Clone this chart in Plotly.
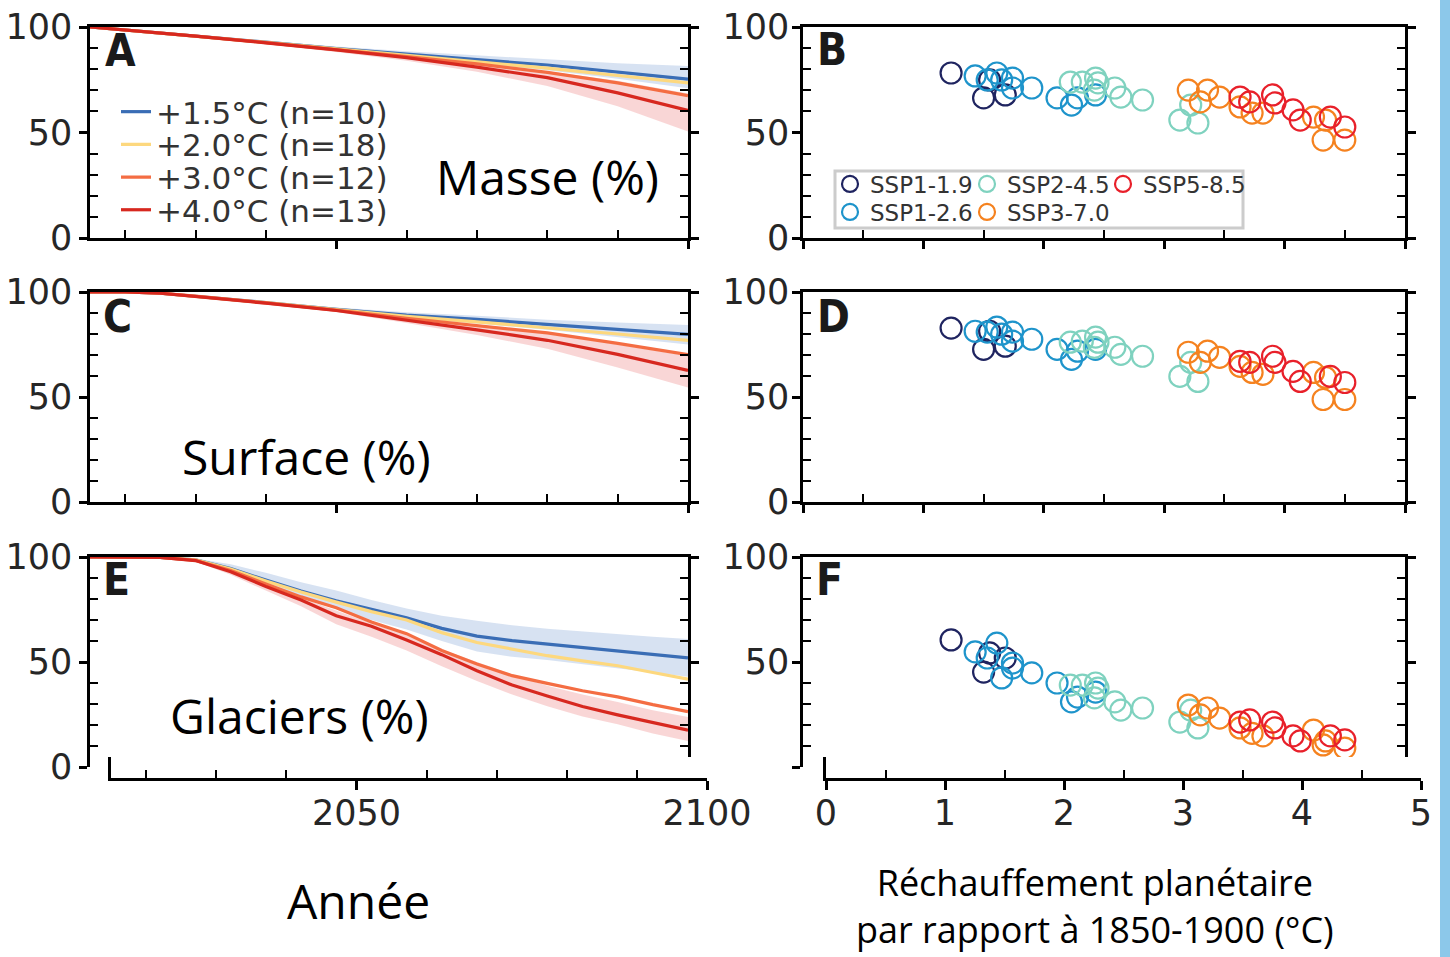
import plotly.graph_objects as go

W, H = 1450, 957


def fx(x):
    return x / W


def fy(y):
    return 1 - y / H


# ---------------- data: panel A (Masse) ----------------
years_mass = [2015, 2020, 2030, 2040, 2050, 2060, 2070, 2080, 2090, 2100]
mass_15 = [100, 98.6, 95.8, 92.8, 89.8, 87.0, 84.5, 82.0, 78.8, 75.3]
mass_20 = [100, 98.6, 95.8, 92.7, 89.6, 86.5, 83.5, 80.5, 77.0, 73.5]
mass_30 = [100, 98.6, 95.7, 92.6, 89.4, 86.0, 82.5, 78.5, 73.5, 67.5]
mass_40 = [100, 98.6, 95.7, 92.5, 89.2, 85.5, 81.0, 76.0, 68.8, 60.5]
mass_15_hi = [100, 98.7, 96.0, 93.3, 90.8, 88.5, 86.5, 84.5, 82.8, 81.5]
mass_15_lo = [100, 98.5, 95.5, 92.3, 89.0, 85.8, 82.8, 79.5, 75.5, 71.0]
mass_40_hi = [100, 98.7, 95.9, 93.0, 90.0, 86.8, 83.0, 79.0, 74.5, 68.5]
mass_40_lo = [100, 98.5, 95.4, 92.0, 88.2, 84.0, 78.8, 72.0, 62.5, 50.5]

# ---------------- data: panel C (Surface) ----------------
years_area = [2015, 2020, 2025, 2030, 2040, 2050, 2060, 2070, 2080, 2090, 2100]
area_15 = [100, 100, 99.4, 98.0, 95.0, 91.8, 89.0, 87.0, 84.6, 82.0, 79.8]
area_20 = [100, 100, 99.4, 98.0, 94.9, 91.6, 88.4, 85.8, 83.0, 80.0, 77.0]
area_30 = [100, 100, 99.4, 98.0, 94.8, 91.4, 87.5, 84.0, 80.5, 75.5, 70.2]
area_40 = [100, 100, 99.4, 97.9, 94.7, 91.2, 86.6, 82.0, 77.0, 70.3, 62.7]
area_15_hi = [100, 100, 99.5, 98.2, 95.4, 92.6, 90.4, 88.7, 86.8, 85.5, 84.3]
area_15_lo = [100, 100, 99.3, 97.8, 94.6, 91.0, 87.6, 85.0, 82.0, 78.5, 75.0]
area_40_hi = [100, 100, 99.5, 98.0, 95.0, 91.7, 87.8, 84.0, 80.0, 75.0, 69.5]
area_40_lo = [100, 100, 99.3, 97.7, 94.3, 90.5, 85.2, 79.5, 73.0, 64.0, 54.5]

# ---------------- data: panel E (Glaciers) ----------------
years_glac = [2015, 2020, 2025, 2030, 2035, 2040, 2045, 2050, 2055, 2060,
              2065, 2070, 2075, 2080, 2085, 2090, 2095, 2100]
glac_15 = [100, 100, 99.8, 98.6, 94.5, 89.0, 83.8, 79.2, 75.0, 71.0,
           66.0, 62.3, 60.2, 58.5, 56.9, 55.3, 53.6, 52.0]
glac_20 = [100, 100, 99.8, 98.6, 94.3, 88.6, 83.3, 78.5, 74.0, 70.0,
           64.0, 59.3, 56.0, 53.0, 50.5, 48.2, 45.0, 41.8]
glac_30 = [100, 100, 99.8, 98.4, 93.6, 87.2, 81.0, 75.8, 69.0, 63.5,
           55.5, 49.0, 43.5, 39.8, 36.3, 33.4, 29.7, 26.4]
glac_40 = [100, 100, 99.8, 98.3, 93.0, 86.0, 79.5, 72.0, 67.0, 60.5,
           53.5, 45.8, 39.0, 33.8, 28.8, 24.8, 21.0, 17.5]
glac_15_hi = [100, 100, 99.9, 99.3, 96.5, 92.5, 88.0, 84.0, 79.5, 75.5,
              72.0, 69.6, 67.5, 65.8, 64.5, 63.3, 62.0, 61.0]
glac_15_lo = [100, 100, 99.7, 98.2, 93.0, 86.5, 80.5, 75.5, 70.0, 65.5,
              60.0, 55.0, 52.5, 51.0, 49.0, 47.0, 45.0, 43.0]
glac_40_hi = [100, 100, 99.9, 98.7, 94.0, 87.0, 80.5, 74.5, 68.5, 63.0,
              56.0, 50.0, 44.0, 38.7, 34.5, 31.0, 27.0, 23.8]
glac_40_lo = [100, 100, 99.7, 97.8, 91.5, 84.0, 76.5, 68.0, 62.0, 55.5,
              48.0, 41.0, 34.5, 28.9, 24.0, 20.3, 16.0, 12.4]

level_names = ["+1.5°C (n=10)", "+2.0°C (n=18)", "+3.0°C (n=12)", "+4.0°C (n=13)"]

# ---------------- data: scatter panels (B, D, F) ----------------
ssp_names = ["SSP1-1.9", "SSP1-2.6", "SSP2-4.5", "SSP3-7.0", "SSP5-8.5"]

ssp119_warm = [1.23, 1.50, 1.68, 1.55]
ssp119_mass = [78.2, 66.4, 67.8, 74.9]
ssp119_area = [82.8, 72.7, 74.2, 81.3]
ssp119_glac = [60.5, 45.2, 51.9, 54.3]

ssp126_warm = [1.43, 1.53, 1.61, 1.65, 1.74, 1.74, 1.90, 2.11, 2.23, 2.28, 2.43]
ssp126_mass = [76.8, 74.9, 78.2, 74.9, 75.8, 71.1, 71.1, 66.4, 63.0, 66.4, 67.8]
ssp126_area = [81.3, 80.9, 83.3, 79.9, 80.9, 76.6, 77.5, 72.7, 67.9, 71.8, 72.7]
ssp126_glac = [54.8, 51.9, 59.0, 42.4, 49.5, 47.1, 44.8, 40.0, 31.0, 33.3, 35.7]

ssp245_warm = [2.22, 2.32, 2.43, 2.45, 2.42, 2.59, 2.64, 2.82, 3.22, 3.13, 3.28]
ssp245_mass = [73.9, 73.9, 75.8, 73.5, 70.1, 71.1, 66.8, 65.4, 63.0, 55.9, 54.5]
ssp245_area = [76.1, 76.6, 78.5, 76.1, 73.7, 73.7, 70.3, 69.4, 66.5, 59.8, 57.4]
ssp245_glac = [39.0, 39.0, 40.0, 37.6, 32.9, 31.0, 27.1, 28.1, 27.1, 21.4, 18.6]

ssp370_warm = [3.20, 3.36, 3.30, 3.46, 3.63, 3.73, 3.82, 4.24, 4.34, 4.32, 4.50]
ssp370_mass = [70.1, 70.1, 64.5, 66.8, 62.1, 59.2, 59.2, 57.3, 55.9, 46.4, 46.4]
ssp370_area = [71.3, 71.8, 66.5, 68.9, 64.6, 61.7, 60.8, 61.7, 59.3, 48.8, 48.8]
ssp370_glac = [29.5, 28.1, 24.8, 23.3, 18.6, 16.0, 14.8, 17.6, 12.4, 10.5, 9.0]

ssp585_warm = [3.63, 3.71, 3.90, 3.92, 4.07, 4.13, 4.38, 4.50]
ssp585_mass = [66.8, 64.5, 67.8, 64.0, 60.7, 55.9, 57.3, 52.6]
ssp585_area = [67.0, 66.5, 69.4, 66.5, 62.2, 57.4, 59.8, 56.9]
ssp585_glac = [21.4, 22.4, 21.4, 18.6, 14.8, 12.4, 14.8, 12.9]

# ---------------- styles ----------------
LINE_COLORS = ["#3A6DB5", "#FDD87E", "#F46D43", "#D7281F"]
BAND_BLUE = "rgba(150,180,220,0.38)"
BAND_RED = "rgba(235,120,120,0.30)"
SSP_COLORS = ["#1F2460", "#1E94CB", "#7FD2BF", "#F5821F", "#E8202A"]

TICKFONT = dict(family="DejaVu Sans", size=35, color="#262626")

fig = go.Figure()

line_legends = ["legend", "legend2", "legend3", "legend4"]


def add_line_panel(xa, ya, years, series, band15, band40, show_legend):
    for (hi, lo), col in ((band15, BAND_BLUE), (band40, BAND_RED)):
        fig.add_trace(go.Scatter(
            x=years + years[::-1], y=hi + lo[::-1], fill="toself",
            fillcolor=col, line=dict(width=0), mode="lines",
            showlegend=False, hoverinfo="skip", xaxis=xa, yaxis=ya))
    for name, vals, col, lg in zip(level_names, series, LINE_COLORS, line_legends):
        fig.add_trace(go.Scatter(
            x=years, y=vals, mode="lines", name=name,
            line=dict(color=col, width=3.2), showlegend=show_legend,
            legend=lg, xaxis=xa, yaxis=ya))


add_line_panel("x", "y", years_mass, [mass_15, mass_20, mass_30, mass_40],
               (mass_15_hi, mass_15_lo), (mass_40_hi, mass_40_lo), True)
add_line_panel("x3", "y3", years_area, [area_15, area_20, area_30, area_40],
               (area_15_hi, area_15_lo), (area_40_hi, area_40_lo), False)
add_line_panel("x5", "y5", years_glac, [glac_15, glac_20, glac_30, glac_40],
               (glac_15_hi, glac_15_lo), (glac_40_hi, glac_40_lo), False)

scatter_sets = [
    (ssp119_warm, ssp119_mass, ssp119_area, ssp119_glac),
    (ssp126_warm, ssp126_mass, ssp126_area, ssp126_glac),
    (ssp245_warm, ssp245_mass, ssp245_area, ssp245_glac),
    (ssp370_warm, ssp370_mass, ssp370_area, ssp370_glac),
    (ssp585_warm, ssp585_mass, ssp585_area, ssp585_glac),
]
ssp_legends = ["legend5", "legend6", "legend7", "legend8", "legend9"]

for panel_idx, (xa, ya) in enumerate((("x2", "y2"), ("x4", "y4"), ("x6", "y6"))):
    for i, (name, col, sets) in enumerate(zip(ssp_names, SSP_COLORS, scatter_sets)):
        fig.add_trace(go.Scatter(
            x=sets[0], y=sets[panel_idx + 1], mode="markers", name=name,
            marker=dict(symbol="circle-open", size=21, color=col,
                        line=dict(width=2.2, color=col)),
            showlegend=(panel_idx == 0), legend=ssp_legends[i],
            cliponaxis=False, xaxis=xa, yaxis=ya))

# empty traces that create the two stand-alone bottom axes
for xa, ya in (("x7", "y7"), ("x8", "y8")):
    fig.add_trace(go.Scatter(x=[], y=[], mode="markers", showlegend=False,
                             hoverinfo="skip", xaxis=xa, yaxis=ya))

# ---------------- axes ----------------
LEFT_X = [fx(90), fx(688)]
RIGHT_X = [fx(803), fx(1405)]
ROWS = [(27, 238), (292, 502), (557, 767)]


def y_axis(row, anchor, ticktext=("0", "50", "100"), standoff=0):
    top, bot = ROWS[row]
    return dict(
        domain=[fy(bot), fy(top)], anchor=anchor, range=[0, 100],
        tickvals=[0, 50, 100], ticktext=list(ticktext), ticks="outside",
        ticklen=8, tickwidth=2.5, tickcolor="black", showline=True,
        linewidth=2.5, linecolor="black", mirror="ticks", showgrid=False,
        zeroline=False, tickfont=TICKFONT, ticklabelstandoff=standoff,
        automargin=False,
        minor=dict(tickvals=[10, 20, 30, 40, 60, 70, 80, 90], ticks="inside",
                   ticklen=8, tickwidth=2, tickcolor="black", showgrid=False))


def x_axis(domain, anchor, rng, majors, minors, last_row=False):
    d = dict(domain=domain, anchor=anchor, range=rng, showgrid=False,
             zeroline=False, showticklabels=False, linecolor="black",
             linewidth=2.5, automargin=False)
    if last_row:
        d.update(side="top", showline=True, ticks="")
    else:
        d.update(showline=True, mirror=True, tickvals=majors, ticks="outside",
                 ticklen=8, tickwidth=2.5, tickcolor="black",
                 minor=dict(tickvals=minors, ticks="inside", ticklen=8,
                            tickwidth=2, tickcolor="black", showgrid=False))
    return d


yr_major = [2050, 2100]
yr_minor = [2020, 2030, 2040, 2060, 2070, 2080, 2090]
w_major = [0, 1, 2, 3, 4, 5]
w_minor = [0.5, 1.5, 2.5, 3.5, 4.5]

layout_axes = {
    "xaxis": x_axis(LEFT_X, "y", [2015, 2100], yr_major, yr_minor),
    "yaxis": y_axis(0, "x"),
    "xaxis2": x_axis(RIGHT_X, "y2", [0, 5], w_major, w_minor),
    "yaxis2": y_axis(0, "x2", standoff=-4),
    "xaxis3": x_axis(LEFT_X, "y3", [2015, 2100], yr_major, yr_minor),
    "yaxis3": y_axis(1, "x3"),
    "xaxis4": x_axis(RIGHT_X, "y4", [0, 5], w_major, w_minor),
    "yaxis4": y_axis(1, "x4", standoff=-4),
    "xaxis5": x_axis(LEFT_X, "y5", [2015, 2100], yr_major, yr_minor, True),
    "yaxis5": y_axis(2, "x5"),
    "xaxis6": x_axis(RIGHT_X, "y6", [0, 5], w_major, w_minor, True),
    "yaxis6": y_axis(2, "x6", ticktext=("", "50", "100"), standoff=-4),
}


def bottom_axis(domain, anchor, rng, majors, minors, labels):
    return dict(domain=domain, anchor=anchor, range=rng, tickvals=majors,
                ticktext=labels, ticks="outside", ticklen=9, tickwidth=2.5,
                tickcolor="black", showline=True, linewidth=2.5,
                linecolor="black", showgrid=False, zeroline=False,
                tickfont=TICKFONT, ticklabelstandoff=-7, automargin=False,
                minor=dict(tickvals=minors, ticks="inside", ticklen=8,
                           tickwidth=2, tickcolor="black", showgrid=False))


def stub_axis(anchor):
    return dict(domain=[fy(778), fy(757)], anchor=anchor, range=[0, 1],
                showline=True, linewidth=2.5, linecolor="black", ticks="",
                showticklabels=False, showgrid=False, zeroline=False,
                automargin=False)


layout_axes["xaxis7"] = bottom_axis([fx(111), fx(707)], "y7", [2015, 2100],
                                    yr_major, yr_minor, ["2050", "2100"])
layout_axes["yaxis7"] = stub_axis("x7")
layout_axes["xaxis8"] = bottom_axis([fx(826), fx(1421)], "y8", [0, 5],
                                    w_major, w_minor,
                                    [str(v) for v in w_major])
layout_axes["yaxis8"] = stub_axis("x8")

fig.update_layout(**layout_axes)

# ---------------- legends ----------------
legend_layout = {}
LINE_FONT = dict(family="DejaVu Sans", size=31, color="#333333")
for i, lg in enumerate(line_legends):
    legend_layout[lg] = dict(x=fx(116), y=fy(112 + 32.7 * i), xanchor="left",
                             yanchor="middle", font=LINE_FONT,
                             bgcolor="rgba(0,0,0,0)", borderwidth=0)
SSP_FONT = dict(family="DejaVu Sans", size=23, color="#333333")
ssp_pos = [(830, 184), (830, 212), (967, 184), (967, 212), (1103, 184)]
for lg, (x, y) in zip(ssp_legends, ssp_pos):
    legend_layout[lg] = dict(x=fx(x), y=fy(y), xanchor="left",
                             yanchor="middle", font=SSP_FONT,
                             bgcolor="rgba(0,0,0,0)", borderwidth=0)
fig.update_layout(**legend_layout)

# ---------------- annotations ----------------
LETTER_FONT = dict(family="Liberation Sans Narrow, DejaVu Sans Condensed, Liberation Sans",
                   size=44, color="#1a1a1a")
letters = [("A", 120, 51), ("B", 832, 49), ("C", 117, 316),
           ("D", 833, 316), ("E", 116, 579), ("F", 829, 579)]
annotations = []
for t, x, y in letters:
    annotations.append(dict(text="<b>%s</b>" % t, x=fx(x), y=fy(y),
                            xref="paper", yref="paper", showarrow=False,
                            xanchor="center", yanchor="middle",
                            font=LETTER_FONT))

BIG = dict(family="Open Sans", size=48, color="black")
for t, x, y in [("Masse (%)", 547, 177), ("Surface (%)", 306, 456),
                ("Glaciers (%)", 299, 715), ("Année", 358, 900)]:
    annotations.append(dict(text=t, x=fx(x), y=fy(y), xref="paper",
                            yref="paper", showarrow=False, xanchor="center",
                            yanchor="middle", font=BIG))
annotations.append(dict(
    text="Réchauffement planétaire<br>par rapport à 1850-1900 (°C)",
    x=fx(1095), y=fy(906), xref="paper", yref="paper", showarrow=False,
    xanchor="center", yanchor="middle",
    font=dict(family="Open Sans", size=36, color="black")))

shapes = [
    dict(type="rect", xref="paper", yref="paper", x0=fx(835), x1=fx(1243),
         y0=fy(228), y1=fy(171), line=dict(color="#cccccc", width=3),
         fillcolor="white", layer="below"),
    dict(type="rect", xref="paper", yref="paper", x0=fx(1440), x1=1,
         y0=0, y1=1, line=dict(width=0), fillcolor="#8CC8EA", layer="above"),
]

fig.update_layout(
    width=W, height=H, margin=dict(l=0, r=0, t=0, b=0, autoexpand=False),
    paper_bgcolor="white", plot_bgcolor="white",
    annotations=annotations, shapes=shapes,
)

fig.write_html("out.html")
